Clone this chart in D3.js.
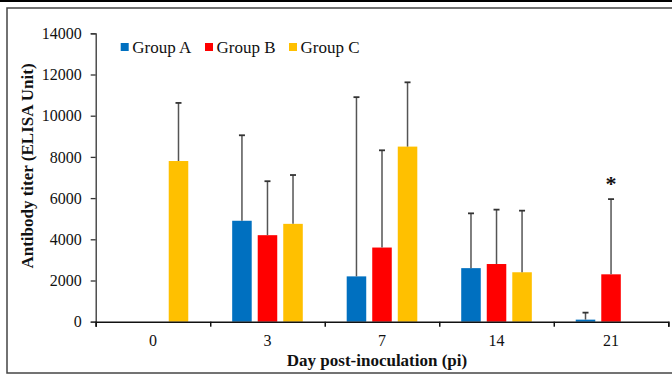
<!DOCTYPE html>
<html>
<head>
<meta charset="utf-8">
<script src="https://cdn.jsdelivr.net/npm/d3@7"></script>
<style>
  body { margin: 0; background: #fff; }
  svg text { font-family: "Liberation Serif", "Times New Roman", serif; fill: #111; }
</style>
</head>
<body>
<div id="chart"></div>
<script>
// data
const days = ["0", "3", "7", "14", "21"];
const groups = ["Group A", "Group B", "Group C"];
const groupA = [0, 4900, 2200, 2600, 100];
const groupB = [0, 4200, 3600, 2800, 2300];
const groupC = [7800, 4750, 8500, 2400, 0];
// upper end of the error bars
const errA = [null, 9050, 10900, 5260, 440];
const errB = [null, 6820, 8320, 5440, 5950];
const errC = [10620, 7120, 11620, 5390, null];
const yTicks = [0, 2000, 4000, 6000, 8000, 10000, 12000, 14000];
const colors = ["#0070C0", "#FF0000", "#FFC000"];

const W = 672, H = 377;
const margin = {top: 33.3, right: 3.7, bottom: 55.3, left: 95.7};
const width = W - margin.left - margin.right;
const height = H - margin.top - margin.bottom;

const svg = d3.select("#chart").append("svg")
    .attr("width", W)
    .attr("height", H);

// frame
svg.append("rect")
    .attr("x", 7).attr("y", 8)
    .attr("width", W + 10).attr("height", H - 12)
    .attr("fill", "none")
    .attr("stroke", "#444")
    .attr("stroke-width", 1.5);
svg.append("line")
    .attr("x1", 0).attr("x2", W)
    .attr("y1", 1).attr("y2", 1)
    .attr("stroke", "#000")
    .attr("stroke-width", 2);

const g = svg.append("g")
    .attr("transform", `translate(${margin.left},${margin.top})`);

const x0 = d3.scaleBand().domain(days).range([0, width]).padding(0);
const x1 = d3.scaleBand().domain(groups).range([0, x0.bandwidth()])
    .paddingInner(0.235).paddingOuter(0.86);
const y = d3.scaleLinear().domain([0, 14000]).range([height, 0]);

// rows for drawing
const rows = [];
days.forEach((d, i) => {
    [groupA, groupB, groupC].forEach((arr, k) => {
        const err = [errA, errB, errC][k][i];
        rows.push({day: d, group: groups[k], value: arr[i], err: err, color: colors[k]});
    });
});

// bars
g.selectAll("rect.bar")
    .data(rows.filter(r => r.value > 0))
    .join("rect")
    .attr("class", "bar")
    .attr("x", d => x0(d.day) + x1(d.group))
    .attr("y", d => y(d.value))
    .attr("width", x1.bandwidth())
    .attr("height", d => height - y(d.value))
    .attr("fill", d => d.color);

// error bars (upper only)
const eb = g.selectAll("g.err")
    .data(rows.filter(r => r.err != null))
    .join("g")
    .attr("class", "err")
    .attr("transform", d => `translate(${x0(d.day) + x1(d.group) + x1.bandwidth() / 2},0)`);
eb.append("line")
    .attr("y1", d => y(d.value)).attr("y2", d => y(d.err))
    .attr("stroke", "#555").attr("stroke-width", 1.5);
eb.append("line")
    .attr("x1", -3).attr("x2", 3)
    .attr("y1", d => y(d.err)).attr("y2", d => y(d.err))
    .attr("stroke", "#333").attr("stroke-width", 1.8);

// significance star over group B, day 21
g.append("text")
    .attr("x", x0("21") + x1("Group B") + x1.bandwidth() / 2)
    .attr("y", y(errB[4]) - 8)
    .attr("text-anchor", "middle")
    .attr("font-size", 22)
    .attr("font-weight", "bold")
    .text("*");

// y axis
const yAxis = g.append("g")
    .call(d3.axisLeft(y).tickValues(yTicks).tickFormat(d3.format("d"))
        .tickSize(5).tickSizeOuter(5).tickPadding(9));
yAxis.selectAll("text").attr("font-size", 16);
yAxis.selectAll("path, line").attr("stroke", "#333").attr("stroke-width", 1.3);

// x axis: ticks at band edges, labels at band centres
const xEdge = d3.scaleLinear().domain([0, days.length]).range([0, width]);
const xTicks = g.append("g")
    .attr("transform", `translate(0,${height})`)
    .call(d3.axisBottom(xEdge).tickValues(d3.range(days.length + 1)).tickFormat("").tickSize(5).tickSizeOuter(5));
xTicks.selectAll("path, line").attr("stroke", "#111").attr("stroke-width", 1.5);

const xLabels = g.append("g")
    .attr("transform", `translate(0,${height})`)
    .call(d3.axisBottom(x0).tickSize(0).tickPadding(13));
xLabels.select(".domain").remove();
xLabels.selectAll("text").attr("font-size", 16);

// axis titles
svg.append("text")
    .attr("x", 377)
    .attr("y", 366)
    .attr("text-anchor", "middle")
    .attr("font-size", 17)
    .attr("font-weight", "bold")
    .text("Day post-inoculation (pi)");

svg.append("text")
    .attr("transform", "translate(33,166) rotate(-90)")
    .attr("text-anchor", "middle")
    .attr("font-size", 17)
    .attr("font-weight", "bold")
    .text("Antibody titer (ELISA Unit)");

// legend
const legendX = [120.7, 205, 289];
const legend = svg.selectAll("g.legend")
    .data(groups)
    .join("g")
    .attr("class", "legend")
    .attr("transform", (d, i) => `translate(${legendX[i]},43)`);
legend.append("rect")
    .attr("width", 8).attr("height", 8)
    .attr("fill", (d, i) => colors[i]);
legend.append("text")
    .attr("x", 11.5).attr("y", 9.5)
    .attr("font-size", 17)
    .text(d => d);
</script>
</body>
</html>
